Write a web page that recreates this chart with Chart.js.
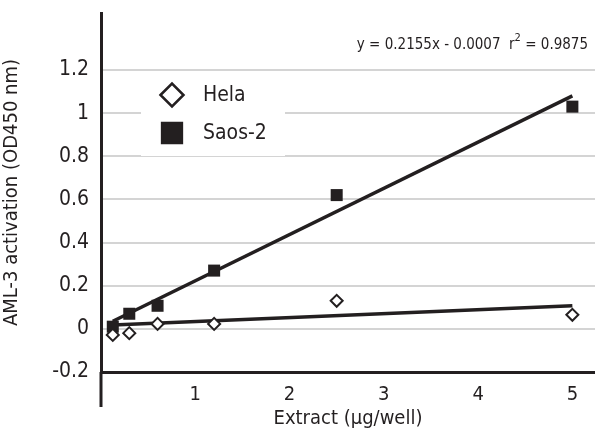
<!DOCTYPE html>
<html lang="en">

<head>
    <meta charset="UTF-8">
    <title>AML-3 activation</title>
    <script src="https://cdn.jsdelivr.net/npm/chart.js@4"></script>
    <style>
        html, body {
            margin: 0;
            padding: 0;
            background: #fff;
            overflow: hidden;
        }

        .graphic {
            position: relative;
            width: 595px;
            height: 439px;
        }
    </style>
</head>

<body>
    <div class="graphic">
        <canvas id="activation"></canvas>
    </div>

    <script>
        // Datos
        const extract = [0.125, 0.3, 0.6, 1.2, 2.5, 5];
        const hela = [-0.028, -0.02, 0.023, 0.023, 0.13, 0.065];
        const saos = [0.01, 0.07, 0.107, 0.27, 0.62, 1.03];

        // Rectas de ajuste (extremos)
        const fitX = [0.125, 5];
        const helaFit = [0.018, 0.107];
        const saosFit = [0.035, 1.08];

        const xTicks = [1, 2, 3, 4, 5];
        const yTicks = [-0.2, 0, 0.2, 0.4, 0.6, 0.8, 1, 1.2];

        const ink = '#231f20';
        const fontFamily = "'Liberation Sans Narrow', 'DejaVu Sans Condensed', 'Liberation Sans', sans-serif";

        const toPoints = (xs, ys) => xs.map((x, i) => ({ x: x, y: ys[i] }));

        // Leyenda dentro del area y ecuacion
        const extras = {
            id: 'extras',
            afterDatasetsDraw(chart) {
                const { ctx, chartArea, scales } = chart;
                ctx.save();

                // eje vertical que baja por debajo del eje x
                const x0 = scales.x.getPixelForValue(0);
                ctx.strokeStyle = ink;
                ctx.lineWidth = 3;
                ctx.beginPath();
                ctx.moveTo(x0, chartArea.bottom);
                ctx.lineTo(x0, chartArea.bottom + 35);
                ctx.stroke();

                // caja de la leyenda
                const lx = chartArea.left + 40;
                const ly = chartArea.top + 67;
                ctx.fillStyle = '#fff';
                ctx.fillRect(lx, ly, 144, 76);

                const items = [
                    { text: 'Hela', style: 'rectRot', r: 11.5, fill: '#fff', dy: 15 },
                    { text: 'Saos-2', style: 'rect', r: 14, fill: ink, dy: 53 }
                ];
                ctx.font = '21px ' + fontFamily;
                ctx.textBaseline = 'middle';
                items.forEach(it => {
                    ctx.fillStyle = it.fill;
                    ctx.strokeStyle = ink;
                    ctx.lineWidth = 2.5;
                    Chart.helpers.drawPoint(ctx, { pointStyle: it.style, radius: it.r, borderWidth: 2.5 },
                        lx + 31, ly + it.dy);
                    ctx.fillStyle = ink;
                    ctx.fillText(it.text, lx + 62, ly + it.dy + 1);
                });

                // ecuacion
                ctx.textBaseline = 'alphabetic';
                const right = chartArea.right - 7;
                const part1 = 'y = 0.2155x - 0.0007  r';
                const part2 = ' = 0.9875';
                ctx.font = '15px ' + fontFamily;
                const w1 = ctx.measureText(part1).width;
                const w3 = ctx.measureText(part2).width;
                ctx.font = '11px ' + fontFamily;
                const w2 = ctx.measureText('2').width;
                let x = right - w1 - w2 - w3;
                const base = chartArea.top + 36;
                ctx.font = '15px ' + fontFamily;
                ctx.fillText(part1, x, base);
                ctx.font = '11px ' + fontFamily;
                ctx.fillText('2', x + w1, base - 8);
                ctx.font = '15px ' + fontFamily;
                ctx.fillText(part2, x + w1 + w2, base);

                ctx.restore();
            }
        };

        const ctx = document.getElementById('activation');

        new Chart(ctx, {
            type: 'scatter',
            data: {
                datasets: [
                    {
                        label: 'Hela',
                        data: toPoints(extract, hela),
                        pointStyle: 'rectRot',
                        pointRadius: 6,
                        backgroundColor: '#fff',
                        borderColor: ink,
                        borderWidth: 2,
                        order: 1
                    },
                    {
                        label: 'Saos-2',
                        data: toPoints(extract, saos),
                        pointStyle: 'rect',
                        pointRadius: 8.5,
                        backgroundColor: ink,
                        borderColor: ink,
                        borderWidth: 0,
                        order: 1
                    },
                    {
                        label: 'Hela fit',
                        type: 'line',
                        data: toPoints(fitX, helaFit),
                        borderColor: ink,
                        borderWidth: 3.5,
                        pointRadius: 0,
                        order: 2
                    },
                    {
                        label: 'Saos-2 fit',
                        type: 'line',
                        data: toPoints(fitX, saosFit),
                        borderColor: ink,
                        borderWidth: 3.5,
                        pointRadius: 0,
                        order: 2
                    }
                ]
            },
            options: {
                responsive: true,
                maintainAspectRatio: false,
                animation: false,
                layout: {
                    autoPadding: false,
                    padding: { top: 13, right: 0, left: 0, bottom: 0 }
                },
                plugins: {
                    legend: { display: false },
                    tooltip: { enabled: false }
                },
                scales: {
                    x: {
                        type: 'linear',
                        min: 0,
                        max: 5.24,
                        afterBuildTicks: axis => {
                            axis.ticks = xTicks.map(v => ({ value: v }));
                        },
                        afterFit: scale => {
                            scale.height = 67;
                            scale.paddingLeft = 0;
                            scale.paddingRight = 0;
                        },
                        grid: { display: false, drawTicks: false },
                        border: { color: ink, width: 3 },
                        ticks: {
                            color: ink,
                            padding: 11,
                            font: { family: fontFamily, size: 20 }
                        },
                        title: {
                            display: true,
                            text: 'Extract (µg/well)',
                            color: ink,
                            font: { family: fontFamily, size: 20 },
                            padding: { top: 0, bottom: 8 }
                        }
                    },
                    y: {
                        min: -0.2,
                        max: 1.464,
                        afterBuildTicks: axis => {
                            axis.ticks = yTicks.map(v => ({ value: v }));
                        },
                        afterFit: scale => {
                            scale.width = 101;
                            scale.paddingTop = 0;
                            scale.paddingBottom = 0;
                        },
                        grid: {
                            color: c => c.tick && c.tick.value > -0.2 ? '#d4d4d4' : 'rgba(0,0,0,0)',
                            lineWidth: 2,
                            drawTicks: false
                        },
                        border: { color: ink, width: 3 },
                        ticks: {
                            color: ink,
                            padding: 12,
                            font: { family: fontFamily, size: 21 },
                            callback: v => String(Math.round(v * 10) / 10)
                        },
                        title: {
                            display: true,
                            text: 'AML-3 activation (OD450 nm)',
                            color: ink,
                            font: { family: fontFamily, size: 20 },
                            padding: { top: 0, bottom: 0 }
                        }
                    }
                }
            },
            plugins: [extras]
        });
    </script>
</body>

</html>
